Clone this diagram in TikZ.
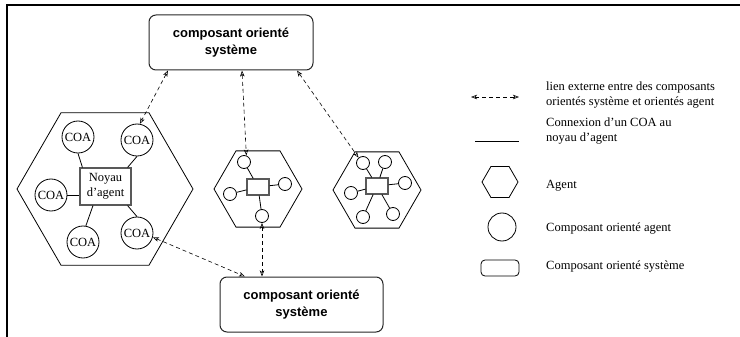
\documentclass[tikz,border=0pt]{standalone}
\usepackage{fontspec}
\setmainfont{Liberation Serif}
\newfontfamily\boxfont{Liberation Sans}
\usetikzlibrary{shapes.geometric,arrows.meta}

\tikzset{
  hexa/.style={regular polygon, regular polygon sides=6, draw, line width=0.8pt, inner sep=0pt},
  coa/.style={circle, draw, line width=0.8pt, inner sep=0pt, minimum size=32pt,
              font=\fontsize{12.5}{14}\selectfont},
  dot/.style={circle, draw, line width=0.8pt, inner sep=0pt, minimum size=13pt},
  core/.style={rectangle, draw=black!65, line width=1.1pt, inner sep=0pt},
  sysbox/.style={rectangle, rounded corners=7pt, draw=black!85, line width=1pt,
                 minimum width=164pt, minimum height=55pt, align=center,
                 font=\boxfont\bfseries\fontsize{13}{17}\selectfont},
  wire/.style={line width=0.8pt},
  extlink/.style={line width=0.6pt, dash pattern=on 4pt off 3pt,
                  {Stealth[open,length=6pt,width=4.5pt,inset=1.5pt]}-{Stealth[open,length=6pt,width=4.5pt,inset=1.5pt]}},
  legtext/.style={anchor=west, inner sep=0pt, align=left,
                  font=\fontsize{12.5}{15}\selectfont}
}

\begin{document}
\begin{tikzpicture}[x=1pt, y=-1pt]
\useasboundingbox (0,0) rectangle (740,337);

% frame edges
\draw[line width=2pt] (7,337) -- (7,5) -- (740,5);

% system-oriented components
\node[sysbox] (top) at (231,42.5) {composant orienté\\système};
\node[sysbox, minimum width=163pt] (bot) at (301.5,304.5) {composant orienté\\système};

% large agent
\node[hexa, minimum size=176pt] (hbig) at (105,189) {};
\node[core, minimum width=51pt, minimum height=37pt, align=center,
      font=\fontsize{12.5}{14.5}\selectfont] (core) at (105.5,186.5) {Noyau\\d'agent};
\node[coa] (c1) at (78,137) {COA};
\node[coa] (c2) at (137,140) {COA};
\node[coa] (c3) at (51,195) {COA};
\node[coa] (c4) at (83,242) {COA};
\node[coa] (c5) at (137,233) {COA};
\draw[wire] (c1.south) -- ([xshift=3pt]core.north west);
\draw[wire] (c2.south) -- ([xshift=-4pt]core.north east);
\draw[wire] (c3.east) -- (c3.east -| core.west);
\draw[wire] (c4.80) -- ([xshift=-12.5pt]core.south);
\draw[wire] (c5.north) -- ([xshift=-4pt]core.south east);

% small agent with four components
\node[hexa, minimum size=88pt] (hs1) at (258,189) {};
\node[core, minimum width=22pt, minimum height=16pt] (k1) at (258,187) {};
\node[dot] (s1a) at (244,162) {};
\node[dot] (s1b) at (230,194) {};
\node[dot] (s1c) at (285,184) {};
\node[dot] (s1d) at (262,216) {};
\foreach \n in {s1a,s1b,s1c,s1d} \draw[wire] (\n) -- (k1);

% small agent with six components
\node[hexa, minimum size=88pt] (hs2) at (377,190) {};
\node[core, minimum width=22pt, minimum height=16pt] (k2) at (377,186) {};
\node[dot] (s2a) at (363,163) {};
\node[dot] (s2b) at (385,162) {};
\node[dot] (s2c) at (405,183) {};
\node[dot] (s2d) at (351,193) {};
\node[dot] (s2e) at (363,217) {};
\node[dot] (s2f) at (393,214) {};
\foreach \n in {s2a,s2b,s2c,s2d,s2e,s2f} \draw[wire] (\n) -- (k2);

% external links
\draw[extlink] ([xshift=-63pt]top.south) -- (c2.80);
\draw[extlink] ([xshift=11pt]top.south) -- (s1a.70);
\draw[extlink] ([xshift=66pt]top.south) -- (s2a.130);
\draw[extlink] (c5.-15) -- ([xshift=-56.5pt]bot.north);
\draw[extlink] (s1d.south) -- (s1d.south |- bot.north);

% legend
\coordinate (la1) at (471,97);
\coordinate (la2) at (519,97);
\draw[extlink] (la1) -- (la2);
\coordinate (lb1) at (475,141);
\coordinate (lb2) at (519,141);
\draw[wire] (lb1) -- (lb2);
\node[hexa, minimum size=36pt] (lhex) at (500,182) {};
\node[circle, draw, line width=0.8pt, inner sep=0pt, minimum size=28pt] (lcirc) at (502,227) {};
\node[rectangle, rounded corners=4pt, draw, line width=0.8pt, minimum width=38pt,
      minimum height=16pt] (lbox) at (500,268) {};

\node[legtext] (t1) at (546,95.5) {lien externe entre des composants\\orientés système et orientés agent};
\node[legtext] (t2) at (546,131.5) {Connexion d'un COA au\\noyau d'agent};
\node[legtext] (t3) at (546,186) {Agent};
\node[legtext] (t4) at (546,229) {Composant orienté agent};
\node[legtext] (t5) at (546,267) {Composant orienté système};
\end{tikzpicture}
\end{document}
